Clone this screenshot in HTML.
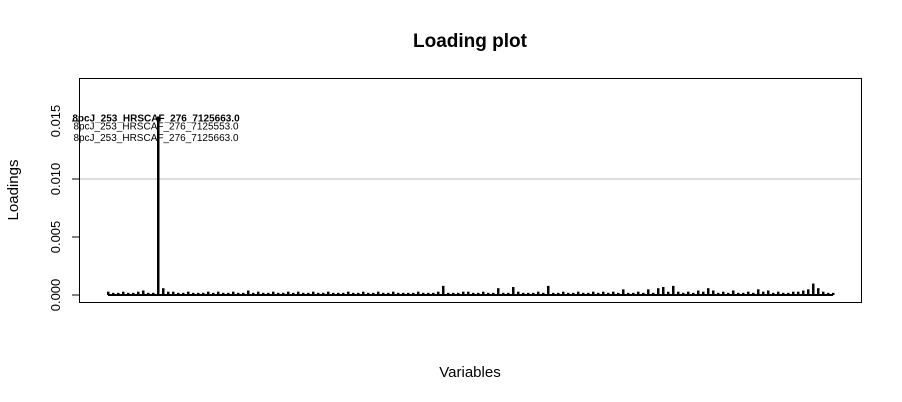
<!DOCTYPE html>
<html><head><meta charset="utf-8"><style>
body{margin:0;background:#fff}
svg{display:block;font-family:"Liberation Sans",sans-serif}
</style></head><body>
<svg id="chart" width="902" height="402">
<text x="470" y="47" text-anchor="middle" font-size="19" font-weight="bold">Loading plot</text>
<text x="470" y="377" text-anchor="middle" font-size="15">Variables</text>
<text transform="translate(18,190) rotate(-90)" text-anchor="middle" font-size="15">Loadings</text>
<line x1="79" y1="179" x2="861" y2="179" stroke="#bbb" stroke-width="1"/>
<g id="bars"></g>
<g id="yaxis"></g>
<g id="labels"></g>
<rect x="79.5" y="78.5" width="782" height="224" fill="none" stroke="#000"/>
</svg>
<script>
const yTicks=[0,0.005,0.010,0.015];
const yTickLabels=["0.000","0.005","0.010","0.015"];
const loadings=[
0.0002,0.0001,0.0001,0.0002,0.0001,0.0001,0.0002,0.0003,0.0001,0.0001,
0.0153,0.0005,0.0002,0.0002,0.0001,0.0001,0.0002,0.0001,0.0001,0.0001,
0.0002,0.0001,0.0002,0.0001,0.0001,0.0002,0.0001,0.0001,0.0003,0.0001,
0.0002,0.0001,0.0001,0.0002,0.0001,0.0001,0.0002,0.0001,0.0002,0.0001,
0.0001,0.0002,0.0001,0.0001,0.0002,0.0001,0.0001,0.0001,0.0002,0.0001,
0.0001,0.0002,0.0001,0.0001,0.0002,0.0001,0.0001,0.0002,0.0001,0.0001,
0.0001,0.0001,0.0002,0.0001,0.0001,0.0001,0.0002,0.0007,0.0001,0.0001,
0.0001,0.0002,0.0002,0.0001,0.0001,0.0002,0.0001,0.0001,0.0005,0.0001,
0.0001,0.0006,0.0002,0.0001,0.0001,0.0001,0.0002,0.0001,0.0007,0.0001,
0.0001,0.0002,0.0001,0.0001,0.0002,0.0001,0.0001,0.0002,0.0001,0.0002,
0.0001,0.0002,0.0001,0.0004,0.0001,0.0001,0.0002,0.0001,0.0004,0.0001,
0.0005,0.0006,0.0002,0.0007,0.0002,0.0001,0.0002,0.0001,0.0003,0.0002,
0.0005,0.0003,0.0001,0.0002,0.0001,0.0003,0.0001,0.0001,0.0002,0.0001,
0.0004,0.0002,0.0003,0.0001,0.0002,0.0001,0.0001,0.0002,0.0002,0.0003,
0.0004,0.0009,0.0005,0.0002,0.0001,0.0001
];
const labelTexts=["8pcJ_253_HRSCAF_276_7125663.0","8pcJ_253_HRSCAF_276_7125553.0","8pcJ_253_HRSCAF_276_7125663.0"];
const labelValues=[0.0153,0.0146,0.0136];
const ns="http://www.w3.org/2000/svg";
const x0=108,x1=833,py0=295,pyPerUnit=58/0.005;
const yScale=v=>py0-v*pyPerUnit;
const xScale=i=>x0+i*(x1-x0)/(loadings.length-1);
const bars=document.getElementById('bars');
loadings.forEach((v,i)=>{
  const l=document.createElementNS(ns,'rect');
  const x=xScale(i),y=yScale(v)-1;
  l.setAttribute('x',x-1);l.setAttribute('y',y);
  l.setAttribute('width',2.5);l.setAttribute('height',Math.max(py0-y,2));
  l.setAttribute('fill','#000');
  
  
  bars.appendChild(l);
});
const base=document.createElementNS(ns,'line');
base.setAttribute('x1',x0);base.setAttribute('x2',x1);base.setAttribute('y1',py0);base.setAttribute('y2',py0);
base.setAttribute('stroke','#000');base.setAttribute('stroke-width','2');


bars.appendChild(base);
const ya=document.getElementById('yaxis');
yTicks.forEach((t,i)=>{
  const y=yScale(t);
  const tk=document.createElementNS(ns,'line');
  tk.setAttribute('x1',72);tk.setAttribute('x2',79);tk.setAttribute('y1',y);tk.setAttribute('y2',y);
  tk.setAttribute('stroke','#000');
  
  
  ya.appendChild(tk);
  const tx=document.createElementNS(ns,'text');
  tx.setAttribute('transform',`translate(60,${y}) rotate(-90)`);
  tx.setAttribute('text-anchor','middle');tx.setAttribute('font-size','13');
  tx.textContent=yTickLabels[i];
  
  
  ya.appendChild(tx);
});
const lg=document.getElementById('labels');
labelTexts.forEach((s,i)=>{
  const tx=document.createElementNS(ns,'text');
  tx.setAttribute('x',xScale(10)-2);tx.setAttribute('y',yScale(labelValues[i])+4);
  tx.setAttribute('text-anchor','middle');tx.setAttribute('font-size','10');
  if(i===0)tx.setAttribute('font-weight','bold');
  tx.textContent=s;
  
  
  lg.appendChild(tx);
});
</script>
</body></html>
